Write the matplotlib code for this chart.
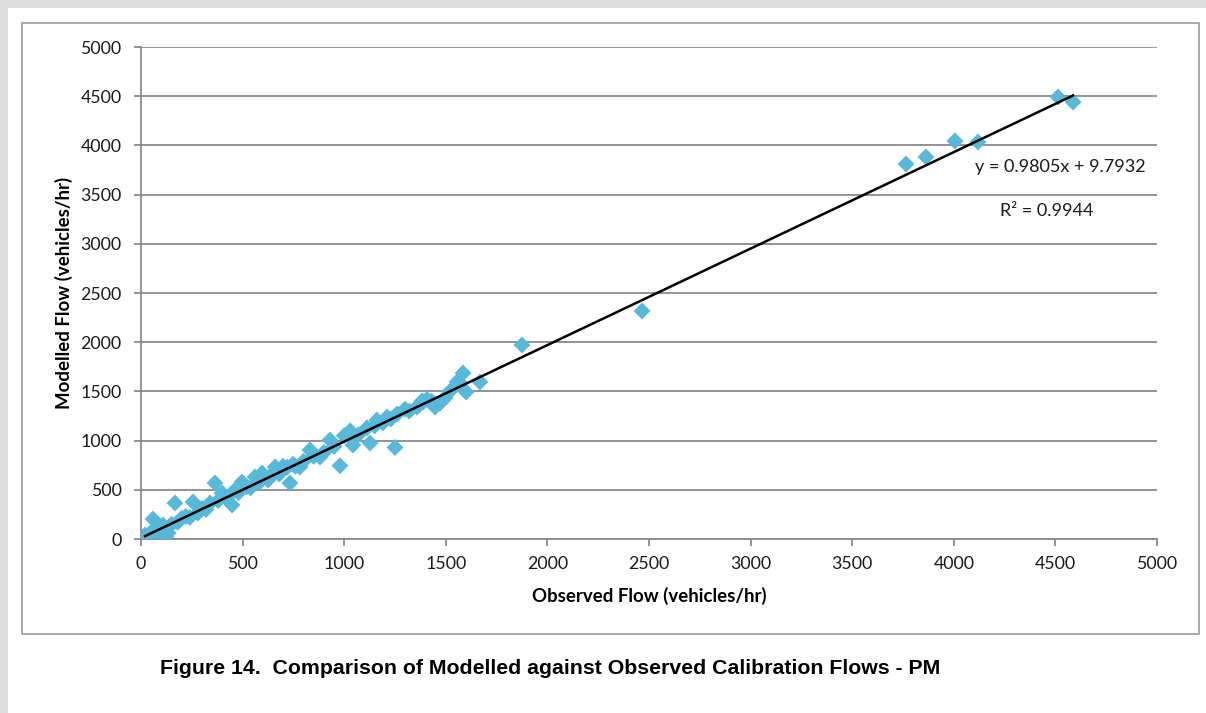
import matplotlib
matplotlib.use("Agg")
import matplotlib.pyplot as plt
from matplotlib.patches import Rectangle
import numpy as np

# Observed vs modelled PM calibration flows (vehicles/hr)
observed = [20, 30, 45, 59, 70, 85, 95, 108, 123, 133, 150, 167, 180, 200, 220,
            240, 256, 280, 300, 320, 340, 364, 380, 399, 420, 448, 463, 480, 497,
            520, 540, 561, 580, 596, 625, 640, 660, 680, 694, 699, 720, 733, 748,
            760, 782, 800, 832, 850, 881, 900, 930, 950, 979, 1000, 1029, 1043,
            1070, 1112, 1127, 1150, 1161, 1190, 1211, 1230, 1250, 1260, 1299, 1320,
            1358, 1368, 1383, 1388, 1407, 1430, 1447, 1452, 1472, 1496, 1520, 1555,
            1570, 1585, 1600, 1668, 1875, 2466, 3765, 3863, 4006, 4119, 4513, 4587]
modelled = [41, 25, 60, 203, 80, 110, 70, 142, 20, 61, 150, 366, 170, 210, 230,
            220, 376, 264, 310, 300, 366, 569, 390, 467, 420, 346, 498, 470, 579,
            530, 520, 630, 570, 671, 600, 650, 732, 660, 700, 740, 730, 569, 760,
            740, 732, 790, 905, 840, 833, 880, 1006, 940, 745, 1050, 1100, 955,
            1060, 1130, 976, 1150, 1209, 1180, 1240, 1220, 930, 1270, 1320, 1300,
            1341, 1362, 1402, 1392, 1420, 1400, 1341, 1372, 1382, 1433, 1500, 1596,
            1585, 1687, 1494, 1596, 1972, 2317, 3811, 3882, 4045, 4035, 4492, 4441]

# Linear trend line parameters
slope = 0.9805
intercept = 9.7932
r_squared = 0.9944

axis_ticks = list(range(0, 5001, 500))

W, H = 1206, 713
fig = plt.figure(figsize=(W / 100, H / 100), dpi=100)
fig.patch.set_facecolor("white")

# page background strips and chart frame
fig.patches.append(Rectangle((0, 1 - 8 / H), 1, 8 / H, transform=fig.transFigure,
                             facecolor="#dcdcdc", edgecolor="none", zorder=-2))
fig.patches.append(Rectangle((0, 0), 8 / W, 1, transform=fig.transFigure,
                             facecolor="#dcdcdc", edgecolor="none", zorder=-2))
fig.patches.append(Rectangle((22 / W, 1 - 634 / H), (1199 - 22) / W, (634 - 23) / H,
                             transform=fig.transFigure, facecolor="white",
                             edgecolor="#9a9a9a", linewidth=1.2, zorder=-1))

ax = fig.add_axes([141 / W, 1 - 539 / H, (1157 - 141) / W, (539 - 47) / H])
ax.set_zorder(2)
ax.set_facecolor("none")

ax.scatter(observed, modelled, marker="D", s=74, color="#58B8DA",
           edgecolors="none", zorder=3)

xs = np.array([min(observed), max(observed)])
ax.plot(xs, slope * xs + intercept, color="black", linewidth=1.8, zorder=4)

ax.set_xlim(0, 5000)
ax.set_ylim(0, 5000)
ax.set_xticks(axis_ticks)
ax.set_yticks(axis_ticks)

grid_color = "#8a8a8a"
ax.yaxis.grid(True, color=grid_color, linewidth=1.3, zorder=1)
ax.xaxis.grid(False)
ax.set_axisbelow(True)
for side in ("top", "right"):
    ax.spines[side].set_visible(False)
for side in ("left", "bottom"):
    ax.spines[side].set_color(grid_color)
    ax.spines[side].set_linewidth(1.3)

ax.tick_params(axis="both", direction="out", length=5, width=1.3,
               color=grid_color, labelsize=12.8, labelcolor="#1a1a1a")
ax.tick_params(axis="y", pad=9)
ax.tick_params(axis="x", pad=7)
for lbl in ax.get_xticklabels() + ax.get_yticklabels():
    lbl.set_family("Lato")

ax.set_xlabel("Observed Flow (vehicles/hr)", fontsize=13.4, fontweight="bold",
              family="Lato", labelpad=11)
ax.set_ylabel("Modelled Flow (vehicles/hr)", fontsize=13.4, fontweight="bold",
              family="Lato", labelpad=5)

ax.text(4104, 3780, f"y = {slope}x + {intercept}", fontsize=13, family="Lato",
        va="center", ha="left", color="#1a1a1a")
ax.text(4227, 3333, f"R² = {r_squared}", fontsize=13, family="Lato",
        va="center", ha="left", color="#1a1a1a")

fig.text(160 / W, 1 - 668 / H,
         "Figure 14.  Comparison of Modelled against Observed Calibration Flows - PM",
         fontsize=15.3, fontweight="bold", family="Liberation Sans",
         va="center", ha="left", color="black")

fig.savefig("out.png", dpi=100)
